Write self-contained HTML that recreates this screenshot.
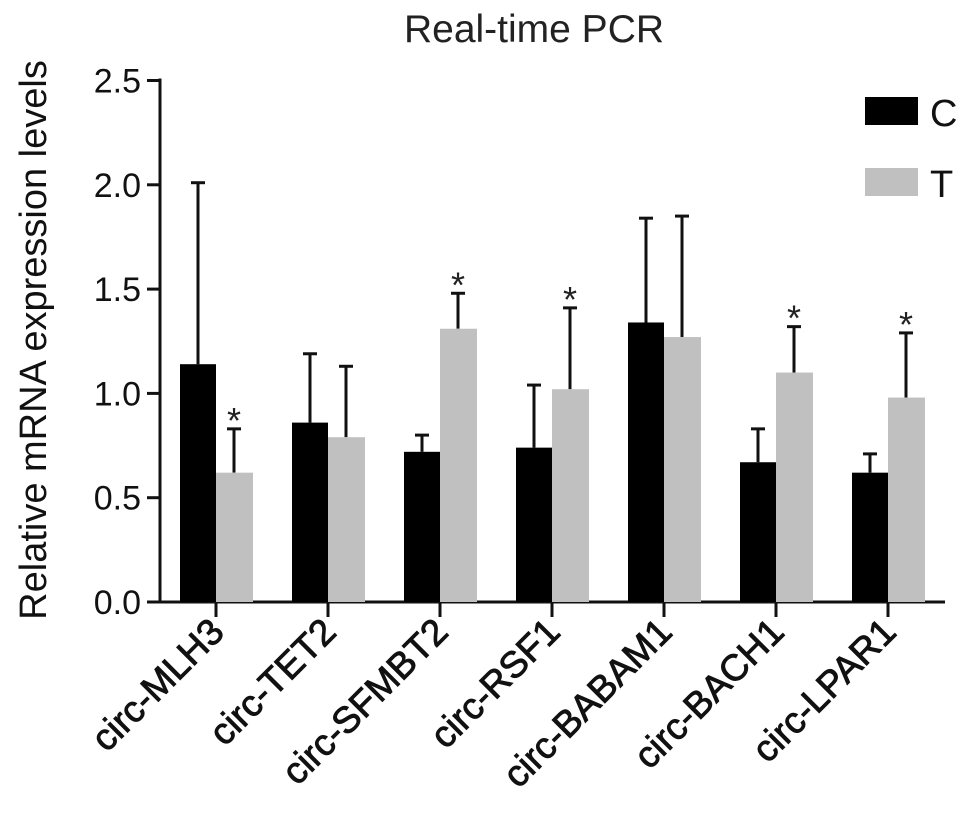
<!DOCTYPE html>
<html><head><meta charset="utf-8"><style>
body{margin:0;background:#fff;}
svg{display:block;font-family:"Liberation Sans",Arial,sans-serif;}
</style></head><body>
<svg id="chart" width="969" height="823">
<text x="534" y="42" font-size="39" text-anchor="middle" fill="#222">Real-time PCR</text>
<text transform="translate(46,340) rotate(-90)" font-size="38" text-anchor="middle" fill="#111">Relative mRNA expression levels</text>
<g>
<rect x="865" y="97" width="53" height="28" fill="#000"/>
<text x="930" y="126" font-size="38" fill="#111">C</text>
<rect x="865" y="168" width="53" height="28" fill="#c0c0c0"/>
<text x="930" y="197" font-size="38" fill="#111">T</text>
</g>
<g id="plot"></g>
</svg>
<script>
const categories=["circ-MLH3","circ-TET2","circ-SFMBT2","circ-RSF1","circ-BABAM1","circ-BACH1","circ-LPAR1"];
const cMeans=[1.14,0.86,0.72,0.74,1.34,0.67,0.62];
const cErrTop=[2.01,1.19,0.80,1.04,1.84,0.83,0.71];
const tMeans=[0.62,0.79,1.31,1.02,1.27,1.10,0.98];
const tErrTop=[0.83,1.13,1.48,1.41,1.85,1.32,1.29];
const tSignificant=[true,false,true,true,false,true,true];
const yTicks=[0,0.5,1.0,1.5,2.0,2.5];
const yTickLabels=["0.0","0.5","1.0","1.5","2.0","2.5"];

const NS="http://www.w3.org/2000/svg";
const g=document.getElementById('plot');
const y0=602,pxPerUnit=208.6,axisX=160,firstCenter=216,step=112,bw=36;
const yS=v=>y0-v*pxPerUnit;
const xS=i=>firstCenter+i*step;
function mk(tag,attrs){const e=document.createElementNS(NS,tag);for(const k in attrs)e.setAttribute(k,attrs[k]);g.appendChild(e);return e;}

let e;
e=mk('line',{x1:axisX,y1:yS(2.5)-2,x2:axisX,y2:y0+1,stroke:'#111','stroke-width':3});


e=mk('line',{x1:147,y1:y0,x2:945,y2:y0,stroke:'#111','stroke-width':3});



yTicks.forEach((v,i)=>{
  e=mk('line',{x1:147,y1:yS(v),x2:axisX,y2:yS(v),stroke:'#111','stroke-width':3});
  
  
  e=mk('text',{x:141,y:yS(v)+12,'font-size':34,'text-anchor':'end',fill:'#111'});
  e.textContent=yTickLabels[i];
  
  
});

function errBar(cx,top,base){
  e=mk('line',{x1:cx,y1:yS(top),x2:cx,y2:yS(base),stroke:'#111','stroke-width':3});
  
  
  e=mk('line',{x1:cx-7,y1:yS(top),x2:cx+7,y2:yS(top),stroke:'#111','stroke-width':3});
  
  
}

categories.forEach((c,i)=>{
  const cx=xS(i);
  errBar(cx-bw/2,cErrTop[i],cMeans[i]);
  errBar(cx+bw/2,tErrTop[i],tMeans[i]);
  e=mk('rect',{x:cx-bw,y:yS(cMeans[i]),width:bw,height:y0-yS(cMeans[i]),fill:'#000'});
  
  
  e=mk('rect',{x:cx,y:yS(tMeans[i]),width:bw+1,height:y0-yS(tMeans[i]),fill:'#c0c0c0'});
  
  
  if(tSignificant[i]){
    e=mk('text',{x:cx+bw/2,y:yS(tErrTop[i])+4,'font-size':36,'text-anchor':'middle',fill:'#222'});
    e.textContent='*';
    
    
  }
  e=mk('line',{x1:cx,y1:y0,x2:cx,y2:y0+15,stroke:'#111','stroke-width':3});
  
  
  e=mk('text',{transform:`translate(${cx+10},${y0+32}) rotate(-45)`,'font-size':37,'text-anchor':'end',fill:'#111',stroke:'#111','stroke-width':0.9});
  e.textContent=c;
  
  
});
</script>
</body></html>
